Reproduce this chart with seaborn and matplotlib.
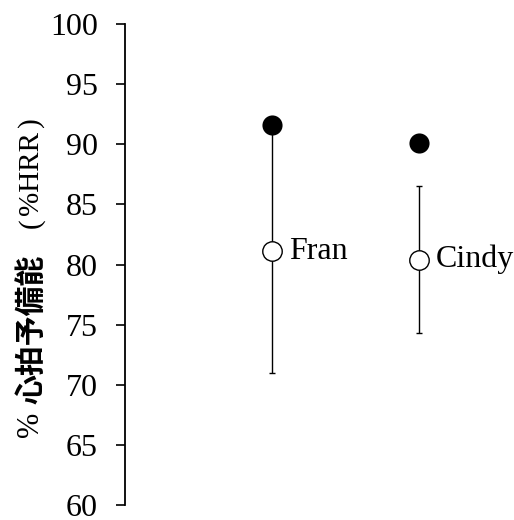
import matplotlib
matplotlib.use("Agg")
import matplotlib.pyplot as plt
import seaborn as sns
import pandas as pd

# values
names = ["Fran", "Cindy"]
peak_hrr = [91.6, 90.1]     # filled dots
mean_hrr = [81.1, 80.4]     # open circles
sd_hrr = [10.1, 6.1]        # error bar half-length
y_ticks = [60, 65, 70, 75, 80, 85, 90, 95, 100]
label_parts = ["%", "心拍予備能", "(", "%HRR", ")"]

SERIF = "Liberation Serif"
GOTHIC = "Noto Sans CJK JP"


def main():
    sns.set_style("ticks")
    plt.rcParams["font.family"] = [SERIF, GOTHIC, "DejaVu Sans"]
    plt.rcParams["text.color"] = "black"
    plt.rcParams["ytick.color"] = "black"
    plt.rcParams["axes.edgecolor"] = "black"

    df = pd.DataFrame({"name": names, "peak": peak_hrr, "mean": mean_hrr, "sd": sd_hrr})
    df["pos"] = range(1, len(df) + 1)

    fig = plt.figure(figsize=(5.14, 5.2), dpi=100)
    ax = fig.add_axes([0.2432, 0.0288, 0.7568, 0.925])

    ax.errorbar(df["pos"], df["mean"], yerr=df["sd"], fmt="o", ms=14,
                mfc="white", mec="black", mew=1.0, ecolor="black",
                elinewidth=1.0, capsize=2.5, capthick=1.0, zorder=2)
    sns.scatterplot(data=df, x="pos", y="peak", color="black", s=210,
                    edgecolor="black", linewidth=0, zorder=3, ax=ax)

    for _, row in df.iterrows():
        ax.annotate(row["name"], (row["pos"], row["mean"]), xytext=(12.5, 0),
                    textcoords="offset points", va="center", ha="left",
                    fontsize=23, family=SERIF, color="black")

    ax.set_xlim(0, 2.65)
    ax.set_ylim(60, 100)
    ax.set_yticks(y_ticks)
    ax.set_xticks([])
    ax.set_xlabel("")
    ax.set_ylabel("")
    ax.tick_params(axis="y", length=6.5, width=1.2, pad=13, labelsize=23, colors="black")
    for lab in ax.get_yticklabels():
        lab.set_family(SERIF)
    sns.despine(ax=ax, bottom=True)
    ax.spines["left"].set_linewidth(1.3)

    # y label built from pieces so the Japanese part can be bold gothic
    fig.canvas.draw()
    renderer = fig.canvas.get_renderer()
    styles = [
        dict(family=SERIF, fontsize=22, weight="normal"),
        dict(family=GOTHIC, fontsize=21.5, weight="bold"),
        dict(family=SERIF, fontsize=21, weight="normal"),
        dict(family=SERIF, fontsize=21, weight="normal"),
        dict(family=SERIF, fontsize=21, weight="normal"),
    ]
    baselines = [38, 40, 38, 38, 38]
    gaps = [8, 26, 4, 4, 0]
    y_px = 83
    for part, st, bx, gap in zip(label_parts, styles, baselines, gaps):
        t = fig.text(bx / 514, y_px / 520, part, rotation=90, rotation_mode="anchor",
                     ha="left", va="baseline", color="black", **st)
        bb = t.get_window_extent(renderer)
        y_px += bb.height + gap

    fig.savefig("out.png", dpi=100)


if __name__ == "__main__":
    main()
